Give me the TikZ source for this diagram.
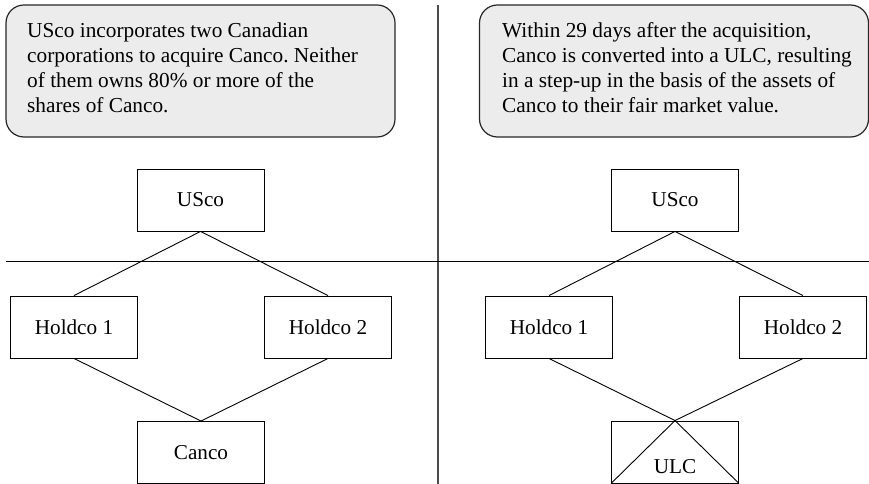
\documentclass[tikz,border=0pt]{standalone}
\usepackage{fontspec}
\setmainfont{Liberation Serif}
\frenchspacing
\begin{document}
\begin{tikzpicture}[x=1bp,y=-1bp,
  entity/.style={draw, line width=0.9bp, minimum width=127bp, minimum height=62bp,
    inner sep=0pt, font=\fontsize{21.2bp}{25bp}\selectfont},
  note/.style={draw=black!85, line width=1.2bp, fill=gray!15, rounded corners=18bp,
    minimum width=389bp, minimum height=132bp, inner sep=0pt},
  notetext/.style={align=left, anchor=north west, inner sep=0pt,
    font=\fontsize{21.3bp}{25bp}\selectfont},
  link/.style={line width=0.9bp},
  divider/.style={draw=black!70, line width=2bp}]
\useasboundingbox (0,0) rectangle (869,484);

% panel dividers
\draw[divider] (438,5) -- (438,484);
\draw[line width=1.2bp] (6,261.5) -- (869,261.5);

% explanatory notes
\node[note] (noteL) at (200.5,71) {};
\node[notetext] (noteLtext) at (27,22.5)
  {USco incorporates two Canadian\\corporations to acquire Canco. Neither\\of them owns 80\% or more of the\\shares of Canco.};
\node[note] (noteR) at (674,71) {};
\node[notetext] (noteRtext) at (502,22.5)
  {Within 29 days after the acquisition,\\Canco is converted into a ULC, resulting\\in a step-up in the basis of the assets of\\Canco to their fair market value.};

% before conversion
\node[entity] (uscoL) at (200.5,200) {USco};
\node[entity] (h1L) at (74,327) {Holdco 1};
\node[entity] (h2L) at (328,327) {Holdco 2};
\node[entity] (canco) at (201,452.5) {Canco};
\draw[link] (uscoL.south) -- (h1L.north);
\draw[link] (uscoL.south) -- (h2L.north);
\draw[link] (h1L.south) -- (canco.north);
\draw[link] (h2L.south) -- (canco.north);

% after conversion into a ULC
\node[entity] (uscoR) at (675,200) {USco};
\node[entity] (h1R) at (549,327) {Holdco 1};
\node[entity] (h2R) at (803,327) {Holdco 2};
\node[entity] (ulc) at (675,452) {};
\node[inner sep=0pt, font=\fontsize{21.2bp}{25bp}\selectfont, anchor=base] (ulctext) at (675,473) {ULC};
\draw[link] (ulc.north) -- (ulc.south west);
\draw[link] (ulc.north) -- (ulc.south east);
\draw[link] (uscoR.south) -- (h1R.north);
\draw[link] (uscoR.south) -- (h2R.north);
\draw[link] (h1R.south) -- (ulc.north);
\draw[link] (h2R.south) -- (ulc.north);
\end{tikzpicture}
\end{document}
